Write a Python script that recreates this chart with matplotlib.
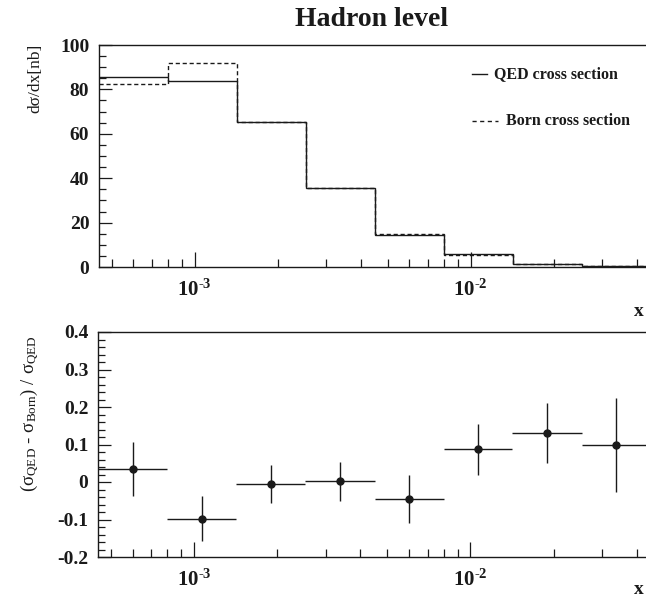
import matplotlib
matplotlib.use('Agg')
import numpy as np
import matplotlib.pyplot as plt
from matplotlib.ticker import FixedLocator, MultipleLocator, LogLocator, NullFormatter

# bin edges in x (log spaced)
x_edges = [4.5e-4, 8.0e-4, 1.42e-3, 2.53e-3, 4.5e-3, 8.0e-3, 1.42e-2, 2.53e-2, 4.5e-2]

# cross sections per bin [nb]
qed_values = [85.8, 84.0, 65.5, 35.5, 14.2, 5.7, 1.5, 0.3]
born_values = [82.5, 92.0, 65.5, 35.5, 15.0, 5.5, 1.2, 0.3]

# relative difference (QED - Born) / QED with errors
ratio_values = [0.035, -0.098, -0.005, 0.002, -0.045, 0.088, 0.13, 0.098]
ratio_errors = [0.072, 0.06, 0.05, 0.052, 0.063, 0.068, 0.08, 0.125]

top_yticks = [0, 20, 40, 60, 80, 100]
top_ylabels = ['0', '20', '40', '60', '80', '100']
bot_yticks = [-0.2, -0.1, 0.0, 0.1, 0.2, 0.3, 0.4]
bot_ylabels = ['-0.2', '-0.1', '0', '0.1', '0.2', '0.3', '0.4']
x_major = [1e-3, 1e-2]
x_labels = ['$\\mathbf{10^{\u2010 3}}$', '$\\mathbf{10^{\u2010 2}}$']

plt.rcParams['font.family'] = ['Liberation Serif', 'DejaVu Serif']
plt.rcParams['font.weight'] = 'bold'
plt.rcParams['mathtext.fontset'] = 'custom'
plt.rcParams['mathtext.rm'] = 'Liberation Serif:normal'
plt.rcParams['mathtext.it'] = 'Liberation Serif:normal'
plt.rcParams['mathtext.bf'] = 'Liberation Serif:bold'
plt.rcParams['mathtext.default'] = 'rm'

ink = '#1a1a1a'


def style_axis(ax, yticks, ylabels, yminor):
    ax.set_xscale('log')
    ax.set_xlim(x_edges[0], x_edges[-1])
    ax.xaxis.set_major_locator(FixedLocator(x_major))
    ax.set_xticklabels(x_labels, fontsize=15)
    ax.xaxis.set_minor_locator(LogLocator(base=10, subs=np.arange(2, 10)))
    ax.xaxis.set_minor_formatter(NullFormatter())
    ax.set_yticks(yticks)
    ax.set_yticklabels(ylabels, fontsize=14)
    ax.yaxis.set_minor_locator(MultipleLocator(yminor))
    ax.tick_params(axis='both', which='both', direction='in', top=False, right=False,
                   colors=ink, width=0.9)
    ax.tick_params(axis='x', which='major', length=11, pad=9)
    ax.tick_params(axis='x', which='minor', length=6)
    ax.tick_params(axis='y', which='major', length=9, pad=7)
    ax.tick_params(axis='y', which='minor', length=5)
    for side in ['left', 'bottom', 'top']:
        ax.spines[side].set_linewidth(1.0)
        ax.spines[side].set_color(ink)
    ax.spines['right'].set_visible(False)


def main() -> None:
    fig = plt.figure(figsize=(6.46, 5.99), dpi=100)

    # upper panel: cross sections
    ax1 = fig.add_axes([99 / 646, 1 - 267 / 599, 552 / 646, 222 / 599])
    ax1.stairs(qed_values, x_edges, baseline=None, color=ink, linewidth=1.0)
    ax1.stairs(born_values, x_edges, baseline=None, color=ink, linewidth=1.0,
               linestyle=(0, (3, 2)))
    ax1.set_ylim(0, 100)
    style_axis(ax1, top_yticks, top_ylabels, 5)

    # legend drawn by hand, ROOT style
    ax1.plot([0.676, 0.703], [0.87, 0.87], transform=ax1.transAxes, color=ink,
             linewidth=1.0, clip_on=False)
    ax1.text(0.716, 0.87, 'QED cross section', transform=ax1.transAxes,
             fontsize=11.5, va='center', ha='left', color=ink)
    ax1.plot([0.676, 0.722], [0.658, 0.658], transform=ax1.transAxes, color=ink,
             linewidth=1.0, linestyle=(0, (3, 2.5)), clip_on=False)
    ax1.text(0.738, 0.658, 'Born cross section', transform=ax1.transAxes,
             fontsize=11.5, va='center', ha='left', color=ink)

    # lower panel: relative difference
    ax2 = fig.add_axes([98 / 646, 1 - 557 / 599, 553 / 646, 225 / 599])
    edges = np.array(x_edges)
    centers = np.sqrt(edges[:-1] * edges[1:])
    xerr = [centers - edges[:-1], edges[1:] - centers]
    ax2.errorbar(centers, ratio_values, xerr=xerr, yerr=ratio_errors, fmt='o',
                 color=ink, markersize=5, elinewidth=1.0, capsize=0)
    ax2.set_ylim(-0.2, 0.4)
    style_axis(ax2, bot_yticks, bot_ylabels, 0.02)

    fig.text(372 / 646, 1 - 20 / 599, 'Hadron level', fontsize=20, ha='center',
             va='center', color=ink)
    fig.text(35 / 646, 1 - 78 / 599, 'dσ/dx[nb]', rotation=90, fontsize=12.5,
             fontweight='normal', ha='center', va='center', color=ink)
    fig.text(30 / 646, 1 - 414 / 599,
             '$(\\sigma_{QED}\\ \u2010\\ \\sigma_{Born})\\ /\\ \\sigma_{QED}$',
             rotation=90, fontsize=13.5, fontweight='normal', ha='center',
             va='center', color=ink)
    fig.text(634 / 646, 1 - 312 / 599, 'x', fontsize=14, ha='left', va='center', color=ink)
    fig.text(634 / 646, 1 - 590 / 599, 'x', fontsize=14, ha='left', va='center', color=ink)

    fig.savefig('out.png', dpi=100)


if __name__ == "__main__":
    main()
